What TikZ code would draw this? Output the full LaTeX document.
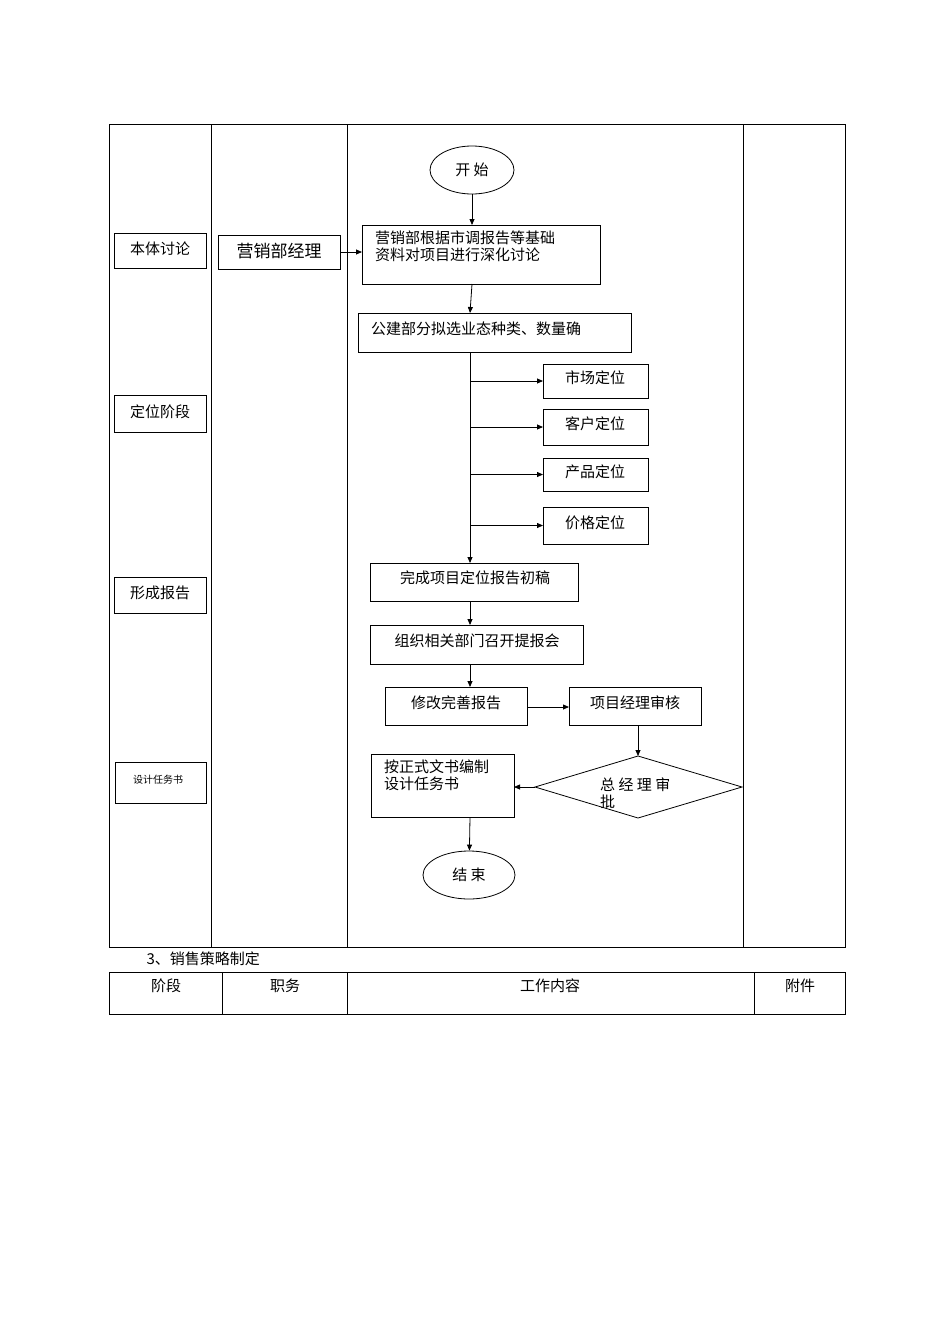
\documentclass[tikz,border=0pt]{standalone}
\usepackage{fontspec}
\setmainfont{Noto Sans CJK SC}
\usetikzlibrary{arrows.meta,shapes.geometric}
\begin{document}
\begin{tikzpicture}[x=1pt,y=-1pt,
 box/.style={draw,thick,rectangle,inner sep=0pt},
 t/.style={font=\fontsize{15}{17}\selectfont},
 arr/.style={-{Triangle[length=6pt,width=5pt]},thick}]
\useasboundingbox (0,0) rectangle (950,1344);
\draw (109,124) rectangle (845,947);
\foreach \x in {211,347,743} \draw (\x,124) -- (\x,947);
% stage boxes
\foreach \n/\a/\b/\s in {s1/233/268/本体讨论, s2/395/432/定位阶段, s3/577/613/形成报告}
 {\draw[thick] (114,\a) rectangle (206,\b); \node[t] (\n) at (160,{(\a+\b)/2-2}) {\s};}
\draw[thick] (115,762) rectangle (206,803);
\node[font=\fontsize{10}{12}\selectfont] (s4) at (158,780) {设计任务书};
\draw[thick] (218,235) rectangle (340,269);
\coordinate (mR) at (340,252);
\node[font=\fontsize{17}{19}\selectfont] (m) at (279,251) {营销部经理};
% flow
\node[draw,thick,ellipse,minimum width=84pt,minimum height=48pt,t] (start) at (472,170) {开 始};
\draw[thick] (362,225) rectangle (600,284);
\coordinate (b1T) at (472,225); \coordinate (b1L) at (362,252); \coordinate (b1B) at (472,284);
\node[t,align=left,anchor=north west,inner sep=0pt] (b1) at (375,231) {营销部根据市调报告等基础\\资料对项目进行深化讨论};
\draw[thick] (358,313) rectangle (631,352);
\coordinate (b2T) at (470,313); \coordinate (b2B) at (470,352);
\node[t,anchor=west,inner sep=0pt] (b2) at (371,329) {公建部分拟选业态种类、数量确};
\draw[arr] (start) -- (b1T);
\draw[arr] (mR) -- (b1L);
\draw[arr] (b1B) -- (b2T);
\foreach \n/\a/\b/\s in {p1/364/398/市场定位, p2/409/445/客户定位, p3/458/491/产品定位, p4/507/544/价格定位}{
 \draw[thick] (543,\a) rectangle (648,\b);
 \node[t] (\n) at (595,{(\a+\b)/2-3}) {\s};
 \coordinate (\n L) at (543,{(\a+\b)/2});
 \coordinate (\n J) at (470,{(\a+\b)/2});
 \draw[arr] (\n J) -- (\n L);}
\draw[thick] (370,563) rectangle (578,601);
\node[t] (c1) at (475,578) {完成项目定位报告初稿};
\coordinate (c1T) at (470,563); \coordinate (c1B) at (470,601);
\draw[arr] (b2B) -- (c1T);
\draw[thick] (370,625) rectangle (583,664);
\node[t] (c2) at (477,641) {组织相关部门召开提报会};
\coordinate (c2T) at (470,625); \coordinate (c2B) at (470,664);
\draw[arr] (c1B) -- (c2T);
\draw[thick] (385,687) rectangle (527,725);
\node[t] (c3) at (456,703) {修改完善报告};
\coordinate (c3T) at (470,687); \coordinate (c3R) at (527,707);
\draw[arr] (c2B) -- (c3T);
\draw[thick] (569,687) rectangle (701,725);
\node[t] (c4) at (635,703) {项目经理审核};
\coordinate (c4L) at (569,707); \coordinate (c4B) at (638,725);
\draw[arr] (c3R) -- (c4L);
\draw[thick] (638,756) -- (742,787) -- (638,818) -- (535,787) -- cycle;
\coordinate (dT) at (638,756); \coordinate (dL) at (535,787);
\node[t,align=left,anchor=north west,inner sep=0pt] (d) at (600,778) {总 经 理 审\\批};
\draw[arr] (c4B) -- (dT);
\draw[thick] (371,754) rectangle (514,817);
\node[t,align=left,anchor=north west,inner sep=0pt] (c5) at (384,760) {按正式文书编制\\设计任务书};
\coordinate (c5R) at (514,787); \coordinate (c5B) at (470,817);
\draw[arr] (dL) -- (c5R);
\node[draw,thick,ellipse,minimum width=92pt,minimum height=48pt,t] (end) at (469,875) {结 束};
\draw[arr] (c5B) -- (end);
% bottom
\node[t,anchor=west] (h) at (143,959) {3、销售策略制定};
\draw (109,972) rectangle (845,1014);
\foreach \x in {222,347,754} \draw (\x,972) -- (\x,1014);
\node[t] (h1) at (166,986) {阶段};
\node[t] (h2) at (285,986) {职务};
\node[t] (h3) at (550,986) {工作内容};
\node[t] (h4) at (800,986) {附件};
\end{tikzpicture}
\end{document}
